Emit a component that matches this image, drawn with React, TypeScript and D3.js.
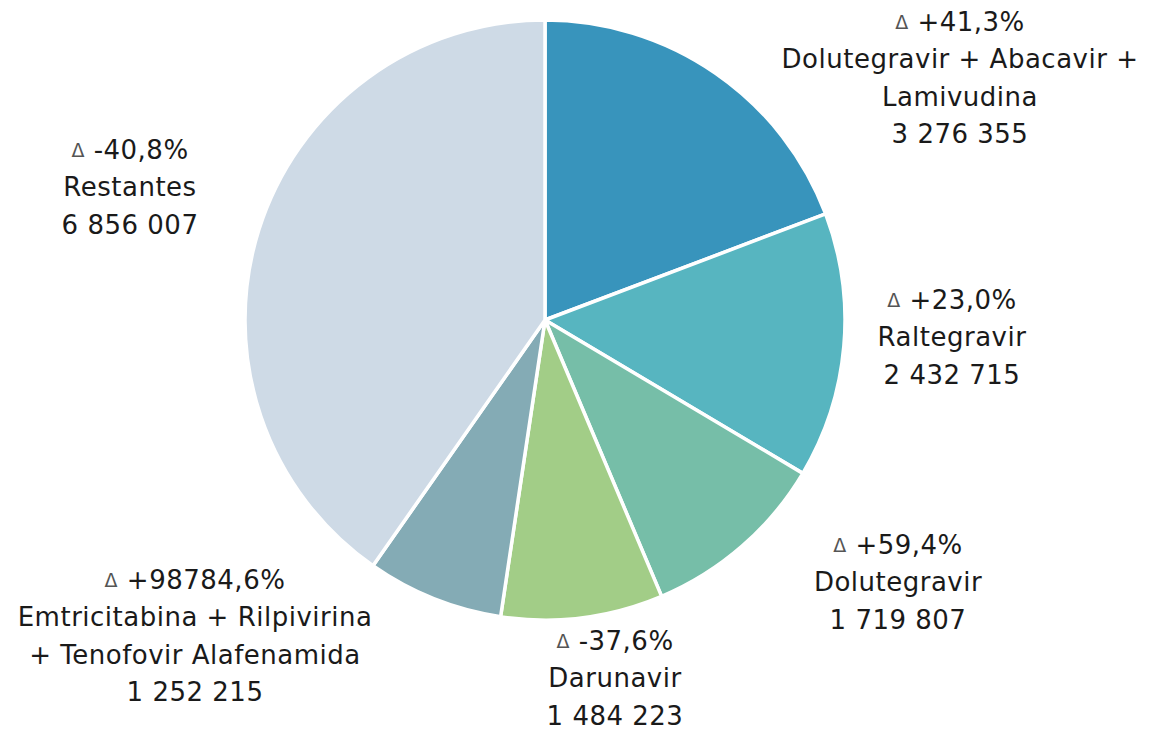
import React from "react";
import * as d3 from "d3";

const categories = [
  ["Dolutegravir + Abacavir +", "Lamivudina"],
  ["Raltegravir"],
  ["Dolutegravir"],
  ["Darunavir"],
  ["Emtricitabina + Rilpivirina", "+ Tenofovir Alafenamida"],
  ["Restantes"],
];
const values = [3276355, 2432715, 1719807, 1484223, 1252215, 6856007];
const deltas = ["+41,3%", "+23,0%", "+59,4%", "-37,6%", "+98784,6%", "-40,8%"];

const colors = ["#3894bc", "#57b5c0", "#76bea8", "#a2cd87", "#84abb5", "#cedae6"];

// label block centres, relative to the pie centre
const labelOffsets = [
  [415, -242],
  [407, 17],
  [353, 262],
  [70, 358],
  [-350, 316],
  [-415, -133],
];

const width = 1158;
const height = 731;
const cx = 545;
const cy = 320;
const radius = 300;
const lineH = 37.5;

const fmt = (v: number) => d3.format(",")(v).replace(/,/g, " ");

export default function App() {
  const pie = d3.pie<number>().sort(null).value((d) => d);
  const arcs = pie(values);
  const arc = d3.arc<d3.PieArcDatum<number>>().innerRadius(0).outerRadius(radius);

  return (
    <svg
      width={width}
      height={height}
      style={{ position: "absolute", left: 0, top: 0, background: "#fff" }}
      fontFamily="'DejaVu Sans', sans-serif"
    >
      <g transform={`translate(${cx},${cy})`}>
        {arcs.map((a, i) => (
          <path key={i} d={arc(a) || ""} fill={colors[i]} stroke="#fff" strokeWidth={3.5} strokeLinejoin="round" />
        ))}
        {arcs.map((a, i) => {
          const lines = [null, ...categories[i], fmt(values[i])];
          const [dx, dy] = labelOffsets[i];
          const top = dy - ((lines.length - 1) * lineH) / 2;
          return (
            <text key={"l" + i} textAnchor="middle" fontSize={26} letterSpacing={0.5} fill="#1a1a1a">
              {lines.map((ln, j) => (
                <tspan key={j} x={dx} y={top + j * lineH} dominantBaseline="central">
                  {j === 0 ? (
                    <>
                      <tspan fontSize={19} fill="#555">{"Δ"}</tspan>
                      <tspan>{" " + deltas[i]}</tspan>
                    </>
                  ) : (
                    ln
                  )}
                </tspan>
              ))}
            </text>
          );
        })}
      </g>
    </svg>
  );
}
